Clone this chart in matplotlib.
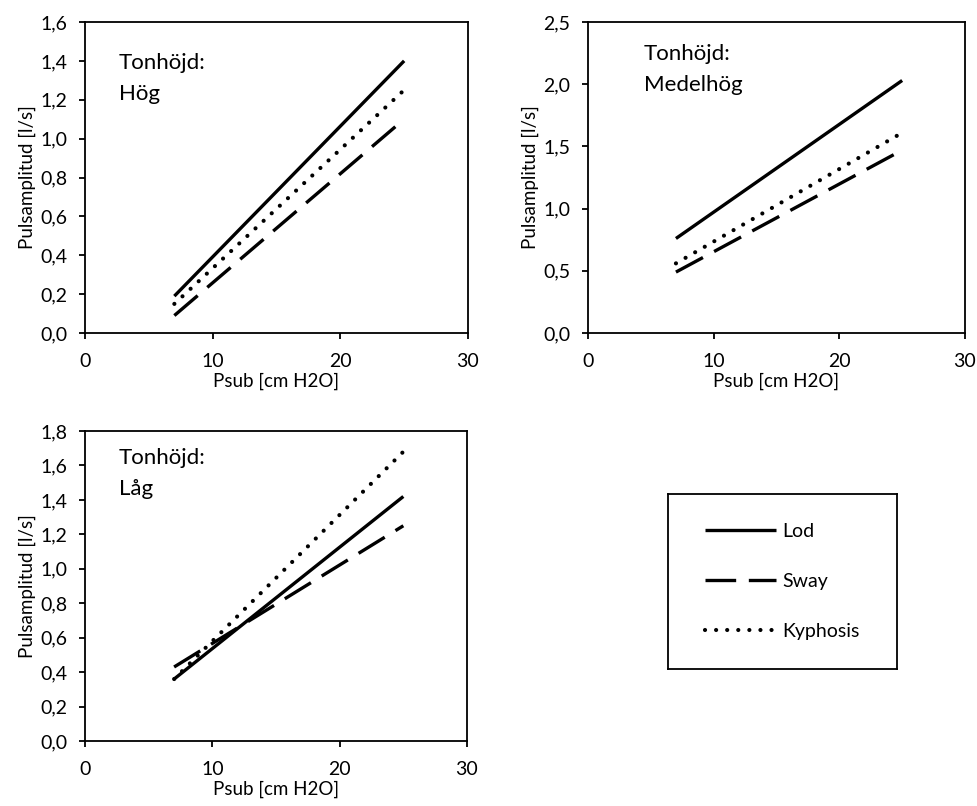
import matplotlib
matplotlib.use("Agg")
import matplotlib.pyplot as plt
import numpy as np

plt.rcParams['font.family'] = ['Lato', 'DejaVu Sans']

x_vals = [7, 25]
# Panel: Hög
hog_lod = [0.19, 1.40]
hog_sway = [0.09, 1.10]
hog_kyph = [0.15, 1.25]
# Panel: Medelhög
med_lod = [0.76, 2.03]
med_sway = [0.49, 1.47]
med_kyph = [0.56, 1.61]
# Panel: Låg
lag_lod = [0.36, 1.42]
lag_sway = [0.43, 1.25]
lag_kyph = [0.36, 1.68]

series_names = ["Lod", "Sway", "Kyphosis"]
panel_titles = ["Tonhöjd:\nHög", "Tonhöjd:\nMedelhög", "Tonhöjd:\nLåg"]
ylims = [(0, 1.6, 0.2), (0, 2.5, 0.5), (0, 1.8, 0.2)]
xticks = [0, 10, 20, 30]
xlabel = "Psub [cm H2O]"
ylabel = "Pulsamplitud [l/s]"

styles = [
    dict(color='black', lw=2.4, linestyle='-', solid_capstyle='butt'),
    dict(color='black', lw=2.4, linestyle=(0, (9.2, 3.8)), dash_capstyle='butt'),
    dict(color='black', lw=3.0, linestyle=(0, (0.01, 2.65)), dash_capstyle='round'),
]

fig = plt.figure(figsize=(9.78, 8.06), dpi=100)
rects = [
    [0.0869, 0.5868, 0.3916, 0.3859],
    [0.6012, 0.5868, 0.3855, 0.3859],
    [0.0869, 0.0806, 0.3906, 0.3846],
]
text_pos = [(0.089, 0.90), (0.148, 0.93), (0.089, 0.945)]
data = [
    (hog_lod, hog_sway, hog_kyph),
    (med_lod, med_sway, med_kyph),
    (lag_lod, lag_sway, lag_kyph),
]

def fmt(v, dec=1):
    return f"{v:.{dec}f}".replace('.', ',')

handles = []
for i, r in enumerate(rects):
    ax = fig.add_axes(r)
    for j, ys in enumerate(data[i]):
        ln, = ax.plot(x_vals, ys, **styles[j])
        if i == 0:
            handles.append(ln)
    lo, hi, st = ylims[i]
    ax.set_xlim(0, 30)
    ax.set_ylim(lo, hi)
    yt = np.round(np.arange(lo, hi + st / 2, st), 2)
    ax.set_yticks(yt)
    ax.set_yticklabels([fmt(v) for v in yt])
    ax.set_xticks(xticks)
    ax.set_xticklabels([str(v) for v in xticks])
    ax.tick_params(axis='both', labelsize=14, direction='out', length=4.5, width=1.3,
                   colors='black', pad=8)
    ax.tick_params(axis='x', pad=10)
    for s in ax.spines.values():
        s.set_linewidth(1.3)
        s.set_color('black')
    ax.set_xlabel(xlabel, fontsize=13.5, labelpad=2)
    ax.set_ylabel(ylabel, fontsize=13.5, labelpad=3)
    ax.text(text_pos[i][0], text_pos[i][1], panel_titles[i], transform=ax.transAxes,
            fontsize=16, va='top', ha='left', linespacing=1.7)

# legend box
lax = fig.add_axes([0.683, 0.170, 0.234, 0.217])
lax.set_xticks([])
lax.set_yticks([])
for s in lax.spines.values():
    s.set_linewidth(1.3)
    s.set_color('black')
leg = lax.legend(handles, series_names, loc='center', frameon=False, fontsize=14,
                 handlelength=3.65, labelspacing=1.7, handletextpad=0.3)

fig.savefig("out.png", dpi=100)
